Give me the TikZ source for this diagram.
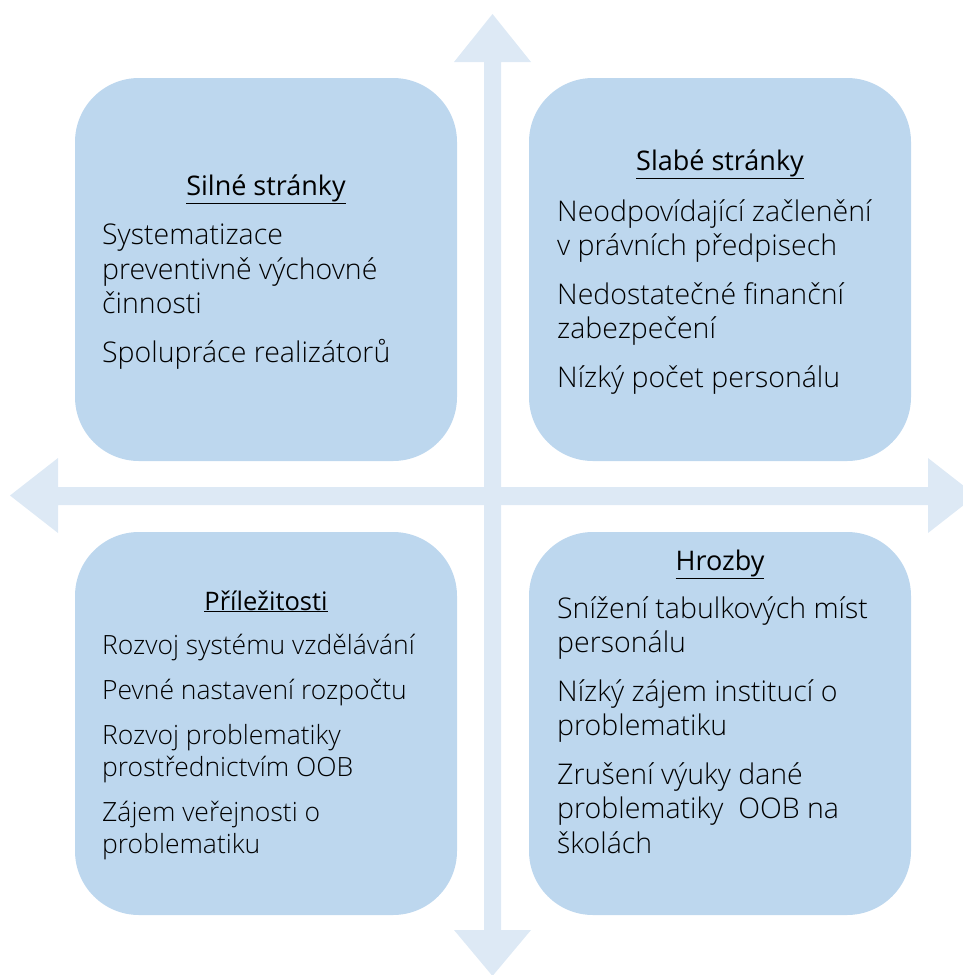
\documentclass[tikz,border=0pt]{standalone}
\usepackage{fontspec}
\setmainfont{Open Sans Light}
\newfontfamily\headfont{Open Sans}
\usetikzlibrary{positioning}
\definecolor{boxblue}{HTML}{BDD7EE}
\definecolor{arrowblue}{HTML}{DDE9F5}

\begin{document}
\begin{tikzpicture}[x=1pt,y=-1pt,
    quad/.style={fill=boxblue, rounded corners=64pt, minimum width=382pt,
      minimum height=383pt, inner sep=0pt},
    head/.style={anchor=base, inner sep=0pt,
      font=\headfont\fontsize{27}{34}\selectfont},
    items/.style={anchor=base west, align=left, inner sep=0pt,
      font=\fontsize{28.5}{34.5}\selectfont}
  ]
  \useasboundingbox (0,0) rectangle (963,975);
  % crossing arrows behind the boxes
  \fill[arrowblue] (484,62) -- (454,62) -- (492.5,14) -- (531,62) -- (501,62)
    -- (501,930) -- (531,930) -- (492.5,976) -- (454,930) -- (484,930) -- cycle;
  \fill[arrowblue] (58,487) -- (58,458) -- (10,495.5) -- (58,533) -- (58,505)
    -- (928,505) -- (928,533) -- (976,495.5) -- (928,458) -- (928,487) -- cycle;
  % the four quadrants
  \node[quad] (strong) at (266,269.5) {};
  \node[quad] (weak)   at (720,269.5) {};
  \node[quad] (chance) at (266,723.5) {};
  \node[quad] (threat) at (720,723.5) {};
  % texts (items are placed at the baseline of their last line)
  \node[head] (strongtitle) at (266,195) {\underline{Silné stránky}};
  \node[items] (strongitems) at (102,362) {Systematizace\\
    preventivně výchovné\\ činnosti\\[14pt]
    Spolupráce realizátorů};
  \node[head] (weaktitle) at (720,170) {\underline{Slabé stránky}};
  \node[items] (weakitems) at (557,387) {Neodpovídající začlenění\\
    v právních předpisech\\[14pt]
    Nedostatečné finanční\\ zabezpečení\\[14pt]
    Nízký počet personálu};
  \node[head, font=\headfont\fontsize{25.5}{32}\selectfont] (chancetitle)
    at (266,610) {\underline{Příležitosti}};
  \node[items, font=\fontsize{26.5}{32}\selectfont] (chanceitems) at (102,853)
    {Rozvoj systému vzdělávání\\[13pt]
    Pevné nastavení rozpočtu\\[13pt]
    Rozvoj problematiky\\ prostřednictvím OOB\\[13pt]
    Zájem veřejnosti o\\ problematiku};
  \node[head] (threattitle) at (720,570) {\underline{Hrozby}};
  \node[items] (threatitems) at (557,853) {Snížení tabulkových míst\\
    personálu\\[14pt]
    Nízký zájem institucí o\\ problematiku\\[14pt]
    Zrušení výuky dané\\ problematiky~ OOB na\\ školách};
\end{tikzpicture}
\end{document}
